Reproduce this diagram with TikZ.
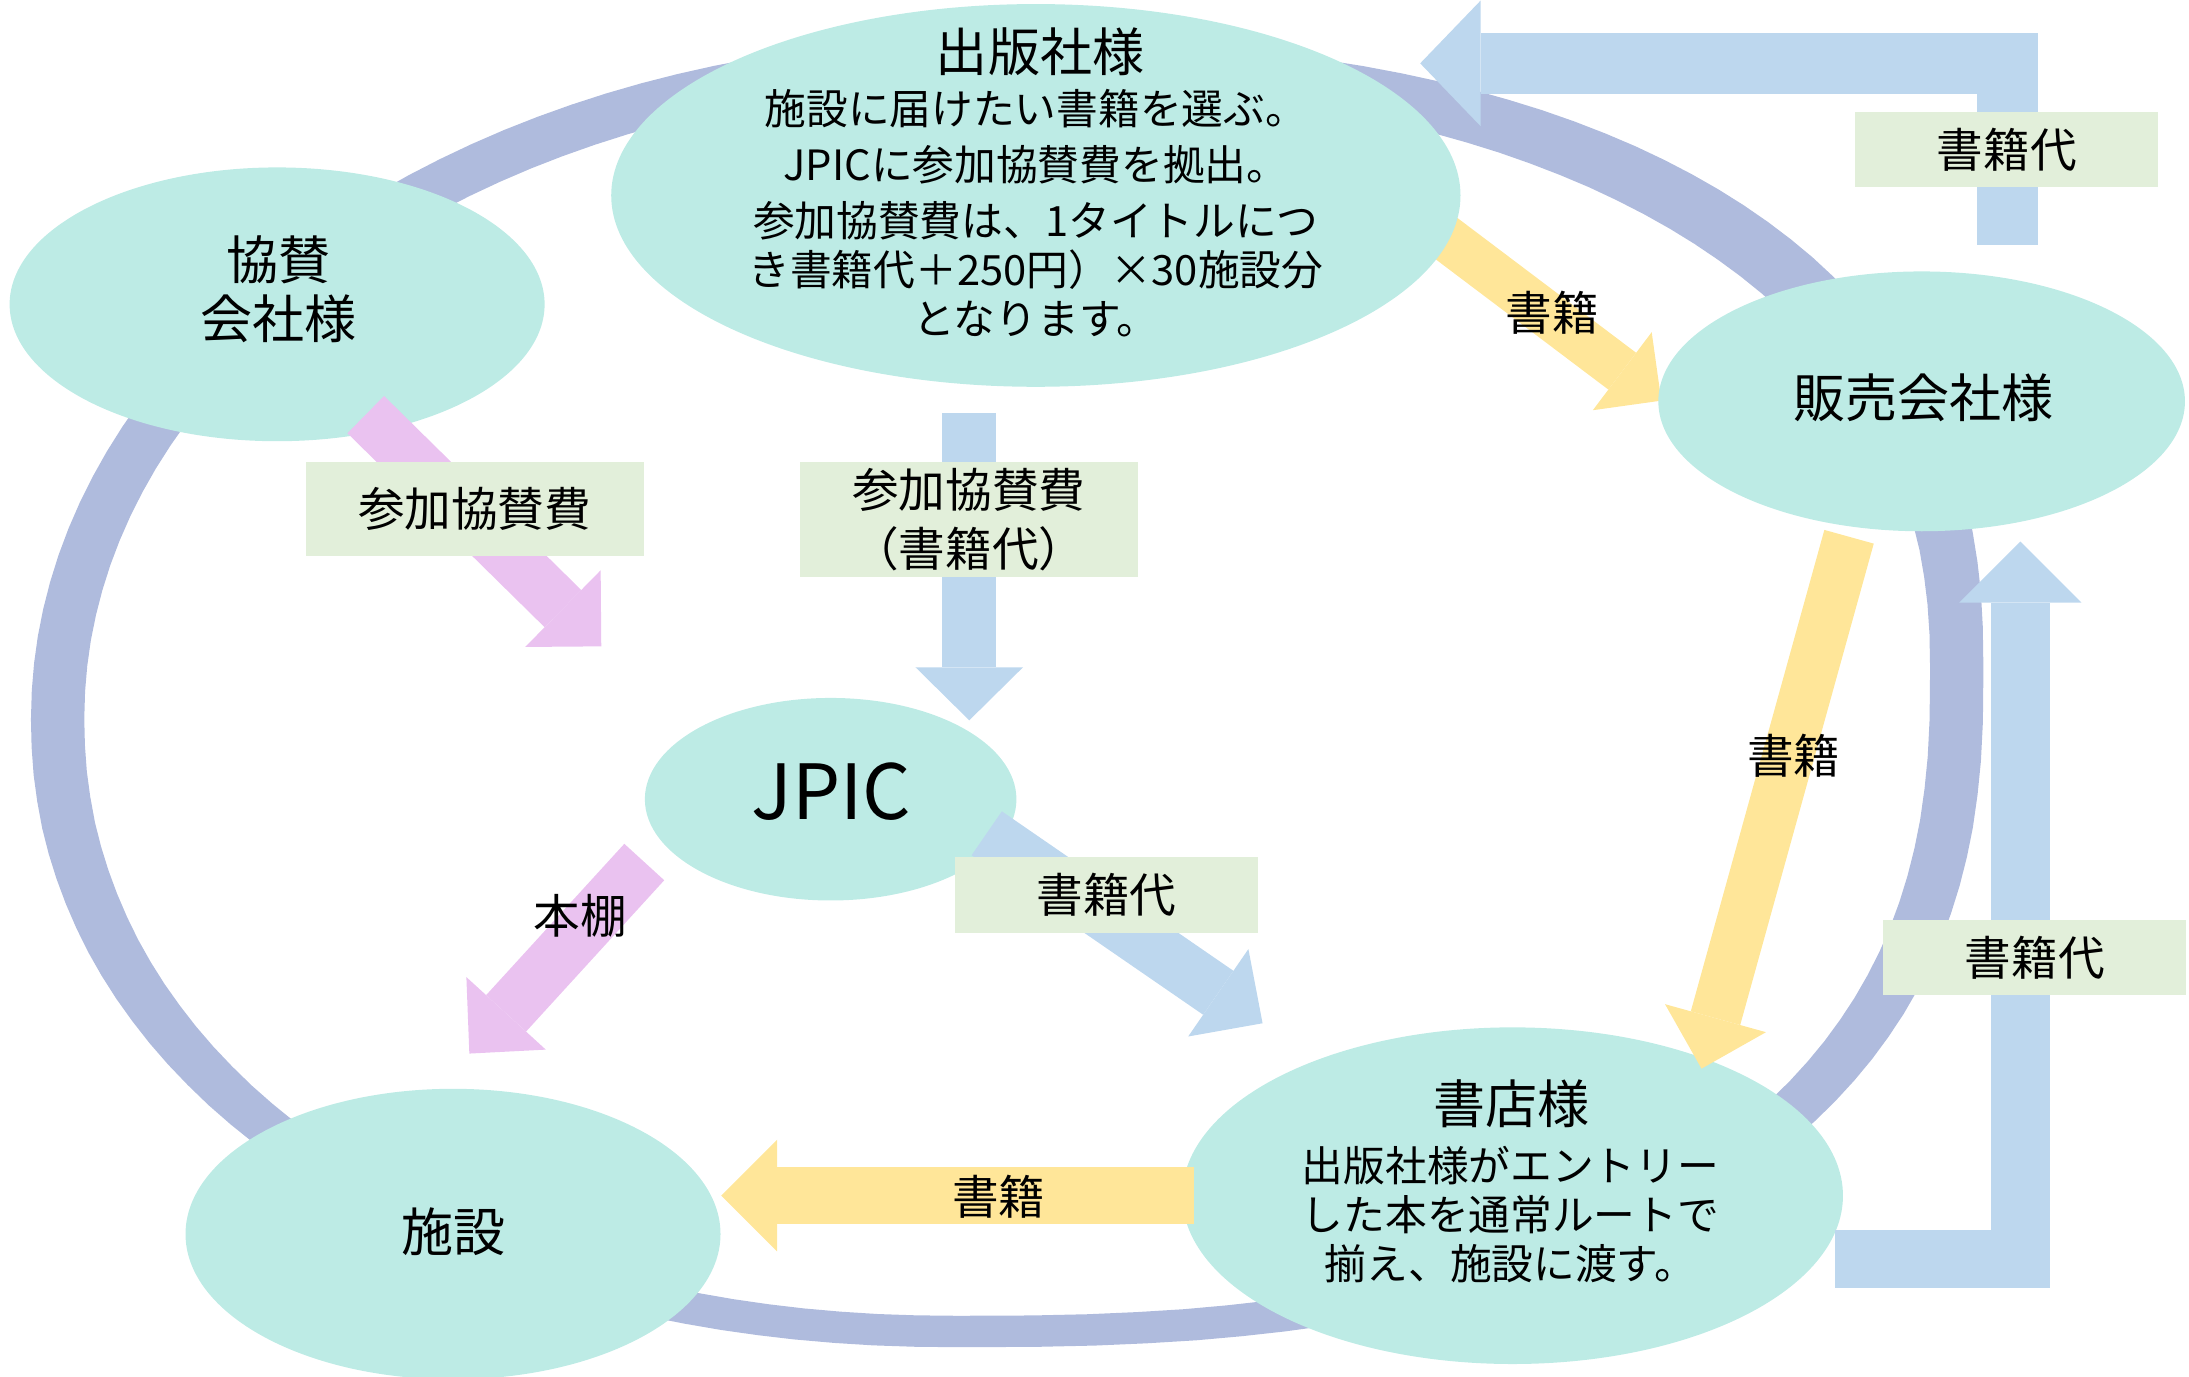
\documentclass[tikz,border=0pt]{standalone}
\usepackage{fontspec}
\setmainfont{Noto Sans CJK JP}
\usetikzlibrary{shapes.geometric,arrows.meta}

\definecolor{bubblecol}{RGB}{189,235,229}
\definecolor{ringcol}{RGB}{175,187,221}
\definecolor{notecol}{RGB}{226,239,218}
\definecolor{bookcol}{RGB}{255,230,153}
\definecolor{feecol}{RGB}{189,215,238}
\definecolor{shelfcol}{RGB}{234,194,240}

\tikzset{
  bubble/.style={ellipse, fill=bubblecol, inner sep=0pt},
  notebox/.style={rectangle, fill=notecol, inner sep=0pt, font=\fontsize{9.5pt}{12pt}\selectfont, align=center},
  headtext/.style={font=\fontsize{10.6pt}{12pt}\selectfont, align=center},
  bodytext/.style={font=\fontsize{8.5pt}{10pt}\selectfont, align=center},
  flowlabel/.style={font=\fontsize{9.5pt}{12pt}\selectfont},
  flowarrow/.style n args={3}{line width=#1cm,
    -{Triangle[length=#3cm 0 0, width=#2cm 0 0, line width=0pt 0 0]}},
  quarter/.style={samples=40, variable=\t},
}

\begin{document}
\begin{tikzpicture}[x=0.01cm, y=-0.01cm]
    \useasboundingbox (0,0) rectangle (1568,986);

    % The cycle behind everything: four quarters outside, four inside
    \fill[ringcol, even odd rule]
      plot[quarter, domain=0:90] ({700+720.7*(abs(cos(\t))+0.0001)^0.8333}, {480-452*(abs(sin(\t))+0.0001)^0.8333})
      -- plot[quarter, domain=90:180] ({700-677.8*abs(cos(\t))}, {514-486*abs(sin(\t))})
      -- plot[quarter, domain=180:270] ({686-663.8*(abs(cos(\t))+0.0001)^0.9524}, {514+451*(abs(sin(\t))+0.0001)^0.9524})
      -- plot[quarter, domain=270:360] ({686+734.7*(abs(cos(\t))+0.0001)^0.8}, {480+485*(abs(sin(\t))+0.0001)^0.8})
      -- cycle
      plot[quarter, domain=0:90] ({700+682.5*(abs(cos(\t))+0.0001)^0.8696}, {480-420*(abs(sin(\t))+0.0001)^0.8696})
      -- plot[quarter, domain=90:180] ({700-639.6*abs(cos(\t))}, {513.4-453.4*abs(sin(\t))})
      -- plot[quarter, domain=180:270] ({686-625.6*(abs(cos(\t))+0.0001)^0.9524}, {513.4+429.1*(abs(sin(\t))+0.0001)^0.9524})
      -- plot[quarter, domain=270:360] ({686+696.5*(abs(cos(\t))+0.0001)^0.8}, {480+462.5*(abs(sin(\t))+0.0001)^0.8})
      -- cycle;

    % Books from the publisher to the sales company (under the bubbles)
    \coordinate (pubbook) at (1010,151.2);
    \coordinate (salesbook) at (1190,287);
    \draw[flowarrow={0.33}{0.70}{0.35}, bookcol] (pubbook) -- (salesbook);

    % The bubbles
    \node[bubble, minimum width=3.83cm, minimum height=1.96cm] (sponsor) at (198.5,218) {};
    \node[bubble, minimum width=6.08cm, minimum height=2.74cm] (publisher) at (742,140) {};
    \node[bubble, minimum width=3.77cm, minimum height=1.86cm] (sales) at (1376.5,287.5) {};
    \node[bubble, minimum width=2.66cm, minimum height=1.45cm] (jpic) at (595,572.5) {};
    \node[bubble, minimum width=3.83cm, minimum height=2.08cm] (facility) at (324.5,884) {};
    \node[bubble, minimum width=4.73cm, minimum height=2.41cm] (store) at (1083.5,856.5) {};

    % Ends of the flows
    \coordinate (salesout) at (1324.5,384.5);
    \coordinate (storebook) at (1218.8,765.5);
    \coordinate (storeout) at (855,856.4);
    \coordinate (facilitybook) at (516.6,856.4);
    \coordinate (sponsorout) at (262,297);
    \coordinate (jpicfee) at (430.7,463);
    \coordinate (jpicshelf) at (461.5,617.5);
    \coordinate (facilityshelf) at (336.2,754.7);
    \coordinate (pubfee) at (694.3,295.8);
    \coordinate (jpicin) at (694.3,516);
    \coordinate (jpicout) at (706.8,596.9);
    \coordinate (storefee) at (904.4,733);
    \coordinate (salesfeeout) at (1438,175.3);
    \coordinate (pubfeein) at (1017.3,45.4);
    \coordinate (storefeeout) at (1314.3,901.8);
    \coordinate (salesfeein) at (1447.2,387.9);

    % Flows of books
    \draw[flowarrow={0.367}{0.75}{0.375}, bookcol] (salesout) -- (storebook);
    \draw[flowarrow={0.41}{0.80}{0.40}, bookcol] (storeout) -- (facilitybook);

    % Sponsor fee and bookshelf
    \draw[flowarrow={0.374}{0.77}{0.385}, shelfcol] (sponsorout) -- (jpicfee);
    \draw[flowarrow={0.387}{0.77}{0.39}, shelfcol] (jpicshelf) -- (facilityshelf);

    % Flows of money
    \draw[flowarrow={0.386}{0.77}{0.38}, feecol] (pubfee) -- (jpicin);
    \draw[flowarrow={0.382}{0.76}{0.385}, feecol] (jpicout) -- (storefee);
    \draw[flowarrow={0.435}{0.90}{0.433}, feecol] (salesfeeout) |- (pubfeein);
    \draw[flowarrow={0.42}{0.875}{0.438}, feecol] (storefeeout) -| (salesfeein);

    % Boxes on the flows
    \node[notebox, minimum width=2.17cm, minimum height=0.54cm] (salesfee) at (1437.5,107) {書籍代};
    \node[notebox, minimum width=2.42cm, minimum height=0.67cm] (sponsorfee) at (340,364.5) {参加協賛費};
    \node[notebox, minimum width=2.42cm, minimum height=0.82cm] (publisherfee) at (694,372) {参加協賛費\\（書籍代）};
    \node[notebox, minimum width=2.17cm, minimum height=0.54cm] (jpicbookfee) at (792.5,641) {書籍代};
    \node[notebox, minimum width=2.17cm, minimum height=0.54cm] (storebookfee) at (1457.5,686) {書籍代};

    % Labels on the flows
    \node[flowlabel] (booksA) at (1112,224) {書籍};
    \node[flowlabel] (booksB) at (1285,541) {書籍};
    \node[flowlabel] (booksC) at (715.5,857) {書籍};
    \node[flowlabel] (shelf) at (415.5,656) {本棚};

    % Texts in the bubbles
    \node[headtext] (sponsorname) at (199.5,207) {協賛\\会社様};
    \node[headtext] (pubname) at (745,37) {出版社様};
    \node[bodytext] (pubnote) at (742,153) {施設に届けたい書籍を選ぶ。\\[1.4pt]JPICに参加協賛費を拠出。\\[1.4pt]参加協賛費は、1タイトルにつ\\き書籍代＋250円）×30施設分\\となります。};
    \node[headtext] (salesname) at (1378,285) {販売会社様};
    \node[font=\fontsize{15.5pt}{18pt}\selectfont] (jpicname) at (595.5,567) {JPIC};
    \node[headtext] (facilityname) at (325,882) {施設};
    \node[headtext] (storename) at (1083,790.5) {書店様};
    \node[bodytext] (storenote) at (1082,870) {出版社様がエントリー\\した本を通常ルートで\\揃え、施設に渡す。};

\end{tikzpicture}
\end{document}
